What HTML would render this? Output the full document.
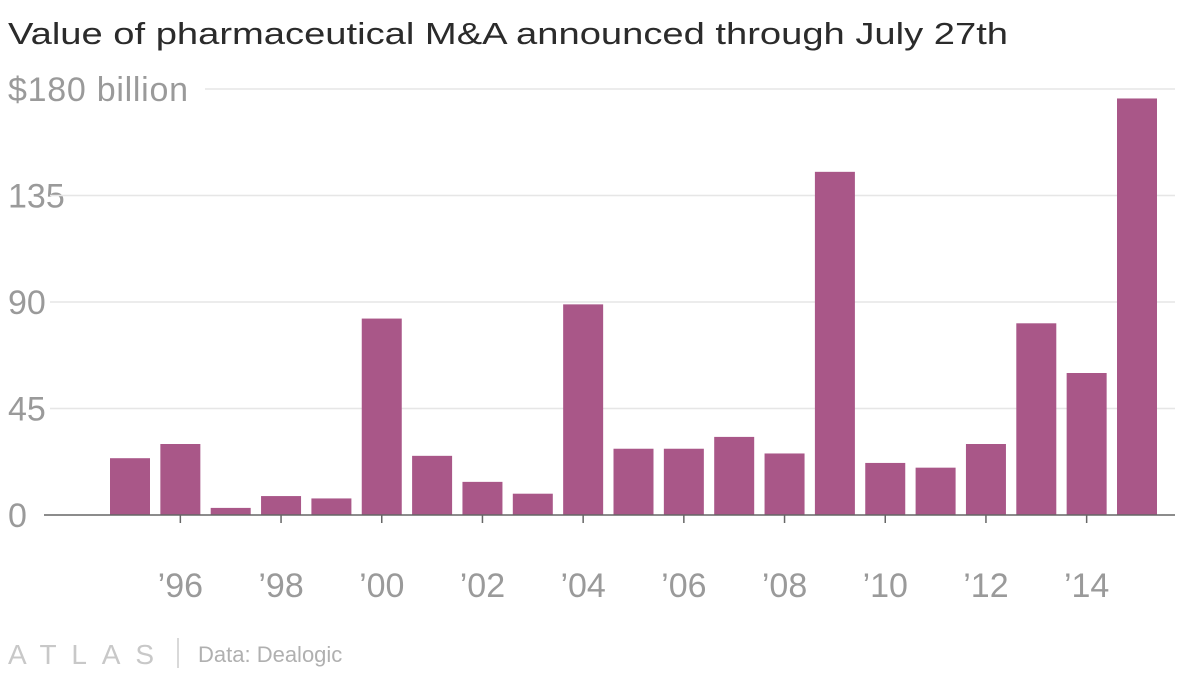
<!DOCTYPE html>
<html><head><meta charset="utf-8"><style>
body{margin:0;background:#fff;width:1200px;height:675px;overflow:hidden;font-family:"Liberation Sans",sans-serif;}
</style></head><body>
<svg width="1200" height="675" xmlns="http://www.w3.org/2000/svg">
<text x="8" y="44" font-size="31" fill="#2b2b2b" font-weight="bold" textLength="1000" lengthAdjust="spacingAndGlyphs" font-family="Liberation Sans, sans-serif" style="font-weight:500">Value of pharmaceutical M&amp;A announced through July 27th</text>
<g id="grid"></g>
<g id="bars"></g>
<g id="xaxis"></g>
<text x="8" y="664" font-size="28" fill="#c8c8c8" textLength="146" lengthAdjust="spacing">ATLAS</text>
<line x1="178" y1="638" x2="178" y2="668" stroke="#ccc" stroke-width="1.5"/>
<text x="198" y="662" font-size="22" fill="#b0b0b0">Data: Dealogic</text>
</svg>
<script>
const years=[1995,1996,1997,1998,1999,2000,2001,2002,2003,2004,2005,2006,2007,2008,2009,2010,2011,2012,2013,2014,2015];
const values=[24,30,3,8,7,83,25,14,9,89,28,28,33,26,145,22,20,30,81,60,176];
const yTicks=[0,45,90,135,180];
const yTickLabels=["0","45","90","135","$180 billion"];
const NS="http://www.w3.org/2000/svg";
const y0=515,yTop=89;
const yS=v=>y0-(v/180)*(y0-yTop);
const xS=i=>110+i*50.35;
const bw=40;
const grid=document.getElementById('grid');
yTicks.forEach((t,i)=>{
  const lbl=yTickLabels[i];
  const tx=document.createElementNS(NS,'text');
  
  
  tx.setAttribute('x',8);tx.setAttribute('y',yS(t)+12);
  tx.setAttribute('font-size','34');tx.setAttribute('fill','#9a9a9a');
  if(lbl.length>5){tx.setAttribute('textLength','180');}
  tx.textContent=lbl;grid.appendChild(tx);
  if(t>0){
    const x1=lbl.length>5?205:50;
    const l=document.createElementNS(NS,'line');
    
    
    l.setAttribute('x1',x1);l.setAttribute('x2',1175);
    l.setAttribute('y1',yS(t));l.setAttribute('y2',yS(t));
    l.setAttribute('stroke','#e6e6e6');l.setAttribute('stroke-width','1.5');
    grid.appendChild(l);
  }
});
const bars=document.getElementById('bars');
values.forEach((v,i)=>{
  const r=document.createElementNS(NS,'rect');
  
  
  r.setAttribute('x',xS(i));r.setAttribute('width',bw);
  r.setAttribute('y',yS(v));r.setAttribute('height',y0-yS(v));
  r.setAttribute('fill','#a95788');
  bars.appendChild(r);
});
const xa=document.getElementById('xaxis');
const ax=document.createElementNS(NS,'line');


ax.setAttribute('x1',44);ax.setAttribute('x2',1175);ax.setAttribute('y1',y0);ax.setAttribute('y2',y0);
ax.setAttribute('stroke','#666');ax.setAttribute('stroke-width','1.5');
xa.appendChild(ax);
years.forEach((yr,i)=>{
  if(yr%2!==0)return;
  const cx=xS(i)+bw/2;
  const tk=document.createElementNS(NS,'line');
  
  
  tk.setAttribute('x1',cx);tk.setAttribute('x2',cx);tk.setAttribute('y1',y0);tk.setAttribute('y2',y0+8);
  tk.setAttribute('stroke','#666');tk.setAttribute('stroke-width','1.5');
  xa.appendChild(tk);
  const tx=document.createElementNS(NS,'text');
  
  
  tx.setAttribute('x',cx);tx.setAttribute('y',597);tx.setAttribute('text-anchor','middle');
  tx.setAttribute('font-size','34');tx.setAttribute('fill','#9a9a9a');
  tx.textContent='\u2019'+String(yr).slice(2);
  xa.appendChild(tx);
});
</script>
</body></html>
